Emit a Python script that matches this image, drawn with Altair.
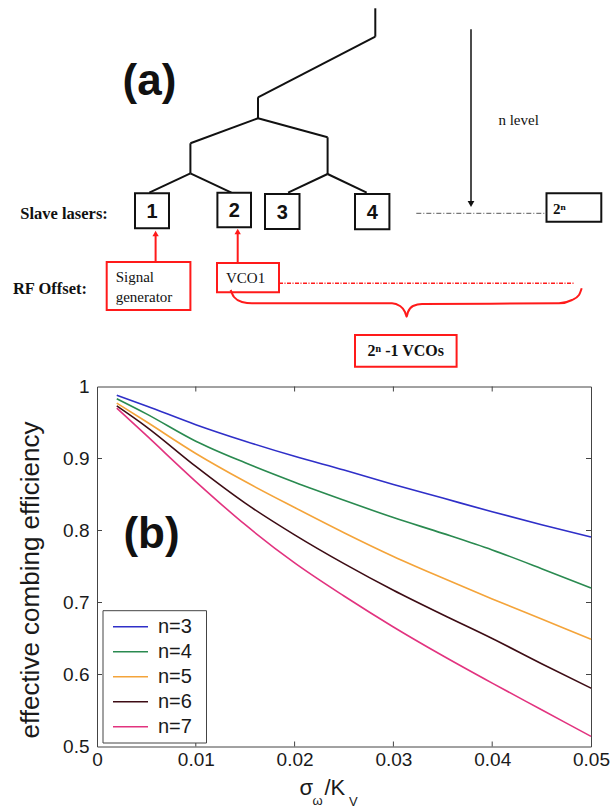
import altair as alt
import pandas as pd

# ---------------- (b) data: efficiency vs sigma_w / K_V ----------------
x_vals = [0.002, 0.005, 0.01, 0.015, 0.02, 0.025, 0.03, 0.035, 0.04, 0.045, 0.05]
eff_n3 = [0.988, 0.973, 0.947, 0.924, 0.903, 0.884, 0.864, 0.845, 0.826, 0.808, 0.791]
eff_n4 = [0.983, 0.962, 0.924, 0.894, 0.867, 0.842, 0.818, 0.796, 0.773, 0.747, 0.720]
eff_n5 = [0.977, 0.951, 0.907, 0.868, 0.832, 0.797, 0.764, 0.734, 0.705, 0.677, 0.649]
eff_n6 = [0.973, 0.944, 0.889, 0.838, 0.794, 0.754, 0.717, 0.683, 0.650, 0.615, 0.581]
eff_n7 = [0.970, 0.932, 0.868, 0.808, 0.755, 0.709, 0.666, 0.626, 0.588, 0.551, 0.514]
series_names = ["n=3", "n=4", "n=5", "n=6", "n=7"]
series_colors = ["#2f2fc8", "#2a8a50", "#f4a43a", "#3d0c14", "#e2337f"]

x_ticks = [0, 0.01, 0.02, 0.03, 0.04, 0.05]
y_ticks = [0.5, 0.6, 0.7, 0.8, 0.9, 1.0]
inner_x_ticks = [0.01, 0.02, 0.03, 0.04]
inner_y_ticks = [0.6, 0.7, 0.8, 0.9]

# ---------------- (a) diagram (page coordinates, px from top-left) ----------------
tree_x1 = [375.3, 375.3, 258.0, 258.0, 258.0, 190.4, 327.6, 190.4, 190.4, 327.6, 327.6]
tree_y1 = [8.3, 36.7, 97.3, 118.3, 118.3, 143.3, 137.3, 173.3, 173.3, 174.0, 174.0]
tree_x2 = [375.3, 258.0, 258.0, 190.4, 327.6, 190.4, 327.6, 149.3, 231.4, 288.1, 366.7]
tree_y2 = [36.7, 97.3, 118.3, 143.3, 137.3, 173.3, 174.0, 192.7, 192.7, 192.7, 192.7]

laser_labels = ["1", "2", "3", "4"]
laser_x1 = [135.0, 217.4, 265.0, 355.0]
laser_x2 = [169.0, 251.0, 299.5, 389.4]
laser_y1 = [193.3, 192.7, 194.0, 194.0]
laser_y2 = [228.3, 227.3, 229.0, 229.3]

brace_x = [230.6, 234, 242, 252, 392, 400, 405, 406.6, 408, 413, 422, 559, 572, 579, 581.7]
brace_y = [290, 297, 302, 303.3, 303.3, 306, 312, 316.7, 312, 306, 304, 303.3, 300, 295, 288.3]

W, H = 494, 360
PAD_L, PAD_T = 97, 386.5
PAGE_W, PAGE_H = 613, 809

px = alt.Scale(domain=[0, PAGE_W], range=[-PAD_L, PAGE_W - PAD_L], zero=False, nice=False)
py = alt.Scale(domain=[0, PAGE_H], range=[-PAD_T, PAGE_H - PAD_T], zero=False, nice=False)


def PX(f):
    return alt.X(f"{f}:Q", scale=px, axis=None)


def PY(f):
    return alt.Y(f"{f}:Q", scale=py, axis=None)


color_scale = alt.Scale(domain=series_names, range=series_colors)

# ---------------- plot (b) ----------------
rows = []
for name, ys in zip(series_names, [eff_n3, eff_n4, eff_n5, eff_n6, eff_n7]):
    for xv, yv in zip(x_vals, ys):
        rows.append({"x": xv, "eff": yv, "series": name})
df = pd.DataFrame(rows)

xs = alt.Scale(domain=[0, 0.05], nice=False, zero=False)
ys_ = alt.Scale(domain=[0.5, 1.0], nice=False, zero=False)

lines = alt.Chart(df).mark_line(strokeWidth=1.6, interpolate="monotone").encode(
    x=alt.X("x:Q", scale=xs, axis=alt.Axis(
        values=x_ticks, title=None, ticks=False, domain=False, grid=False,
        labelExpr="datum.value == 0 ? '0' : format(datum.value, '.2f')",
        labelFont="Liberation Sans", labelFontSize=19, labelColor="#1a1a1a",
        labelPadding=4, labelFlush=False, labelOverlap=False)),
    y=alt.Y("eff:Q", scale=ys_, axis=alt.Axis(
        values=y_ticks, ticks=False, domain=False, grid=False,
        labelExpr="datum.value == 1 ? '1' : format(datum.value, '.1f')",
        labelFont="Liberation Sans", labelFontSize=19, labelColor="#1a1a1a",
        labelPadding=8, labelFlush=False, labelOverlap=False,
        title="effective combing efficiency", titleFont="Liberation Sans",
        titleFontSize=26, titleFontWeight="normal", titleColor="#1a1a1a",
        titleAngle=270, titleX=-67, titleY=H / 2 + 13, titleAlign="center",
        titleBaseline="middle")),
    color=alt.Color("series:N", scale=color_scale, legend=None),
    detail="series:N",
)

tx = pd.DataFrame({"v": inner_x_ticks})
ty = pd.DataFrame({"v": inner_y_ticks})
tick_b = alt.Chart(tx).mark_rule(color="#444", strokeWidth=1).encode(
    x=alt.X("v:Q", scale=xs), y=alt.value(H), y2=alt.value(H - 5))
tick_t = alt.Chart(tx).mark_rule(color="#444", strokeWidth=1).encode(
    x=alt.X("v:Q", scale=xs), y=alt.value(0), y2=alt.value(5))
tick_l = alt.Chart(ty).mark_rule(color="#444", strokeWidth=1).encode(
    y=alt.Y("v:Q", scale=ys_), x=alt.value(0), x2=alt.value(5))
tick_r = alt.Chart(ty).mark_rule(color="#444", strokeWidth=1).encode(
    y=alt.Y("v:Q", scale=ys_), x=alt.value(W), x2=alt.value(W - 5))

plot_group = alt.layer(lines, tick_b, tick_t, tick_l, tick_r)

# ---------------- page layers (diagram, legend, labels) ----------------
tree_df = pd.DataFrame({"x": tree_x1, "y": tree_y1, "x2": tree_x2, "y2": tree_y2})
tree = alt.Chart(tree_df).mark_rule(color="#111", strokeWidth=2).encode(
    x=PX("x"), y=PY("y"), x2="x2:Q", y2="y2:Q")

laser_df = pd.DataFrame({"t": laser_labels, "x": laser_x1, "x2": laser_x2,
                         "y": laser_y1, "y2": laser_y2})
laser_df["cx"] = (laser_df["x"] + laser_df["x2"]) / 2
laser_df["cy"] = (laser_df["y"] + laser_df["y2"]) / 2 + 1
laser_boxes = alt.Chart(laser_df).mark_rect(fill="white", stroke="#111", strokeWidth=2).encode(
    x=PX("x"), x2="x2:Q", y=PY("y"), y2="y2:Q")
laser_text = alt.Chart(laser_df).mark_text(font="Liberation Sans", fontWeight="bold",
                                           fontSize=20, color="#111", baseline="middle").encode(
    x=PX("cx"), y=PY("cy"), text="t:N")

box2n = alt.Chart(pd.DataFrame({"x": [546.5], "x2": [601.3], "y": [193.3], "y2": [221.7]})).mark_rect(
    fill="white", stroke="#111", strokeWidth=2).encode(x=PX("x"), x2="x2:Q", y=PY("y"), y2="y2:Q")
box2n_text = alt.Chart(pd.DataFrame({"x": [553], "y": [208.5], "t": ["2ⁿ"]})).mark_text(
    font="Liberation Serif", fontWeight="bold", fontSize=15, align="left", baseline="middle",
    color="#111").encode(x=PX("x"), y=PY("y"), text="t:N")

dash_line = alt.Chart(pd.DataFrame({"x": [416.3], "x2": [546.5], "y": [213.3]})).mark_rule(
    color="#555", strokeWidth=1, strokeDash=[5, 2, 1, 2]).encode(x=PX("x"), x2="x2:Q", y=PY("y"))

n_arrow = alt.Chart(pd.DataFrame({"x": [471.0], "y": [29.3], "y2": [203.0]})).mark_rule(
    color="#111", strokeWidth=1.5).encode(x=PX("x"), y=PY("y"), y2="y2:Q")
n_head = alt.Chart(pd.DataFrame({"x": [471.0], "y": [204.0]})).mark_point(
    shape="triangle-down", filled=True, size=45, color="#111", opacity=1).encode(x=PX("x"), y=PY("y"))

black_serif = alt.Chart(pd.DataFrame({"x": [498.4], "y": [120.0], "t": ["n level"]})).mark_text(
    font="Liberation Serif", fontSize=15, align="left", baseline="middle", color="#111").encode(
    x=PX("x"), y=PY("y"), text="t:N")

row_labels = alt.Chart(pd.DataFrame({"x": [20.3, 12.9], "y": [214.0, 289.0],
                                     "t": ["Slave lasers:", "RF Offset:"]})).mark_text(
    font="Liberation Serif", fontWeight="bold", fontSize=16.5, align="left", baseline="middle",
    color="#111").encode(x=PX("x"), y=PY("y"), text="t:N")

panel_labels = alt.Chart(pd.DataFrame({"x": [149.5, 151.5], "y": [82.0, 535.0],
                                       "t": ["(a)", "(b)"]})).mark_text(
    font="Liberation Sans", fontWeight="bold", fontSize=44, baseline="middle", color="#111").encode(
    x=PX("x"), y=PY("y"), text="t:N")

RED = "#ff1a1a"
red_boxes = alt.Chart(pd.DataFrame({"x": [106.7, 217.0, 355.0], "x2": [190.4, 279.0, 456.6],
                                    "y": [262.0, 263.0, 335.0], "y2": [310.0, 292.3, 366.7]})).mark_rect(
    fill="white", stroke=RED, strokeWidth=2).encode(x=PX("x"), x2="x2:Q", y=PY("y"), y2="y2:Q")
red_arrows = alt.Chart(pd.DataFrame({"x": [155.6, 237.7], "y": [262.0, 263.0], "y2": [236.0, 234.0]})).mark_rule(
    color=RED, strokeWidth=2).encode(x=PX("x"), y=PY("y"), y2="y2:Q")
red_heads = alt.Chart(pd.DataFrame({"x": [155.6, 237.7], "y": [233.5, 231.5]})).mark_point(
    shape="triangle-up", filled=True, size=40, color=RED, opacity=1).encode(x=PX("x"), y=PY("y"))
red_dots = alt.Chart(pd.DataFrame({"x": [279.0], "x2": [574.7], "y": [283.3]})).mark_rule(
    color=RED, strokeWidth=1.5, strokeDash=[4, 1.5, 1, 1.5]).encode(x=PX("x"), x2="x2:Q", y=PY("y"))
brace_df = pd.DataFrame({"x": brace_x, "y": brace_y, "i": list(range(len(brace_x)))})
brace = alt.Chart(brace_df).mark_line(color=RED, strokeWidth=2, interpolate="monotone").encode(
    x=PX("x"), y=PY("y"), order="i:Q")
red_text = alt.Chart(pd.DataFrame({"x": [115.7, 115.7, 226.0], "y": [277.0, 297.0, 277.5],
                                   "t": ["Signal", "generator", "VCO1"]})).mark_text(
    font="Liberation Serif", fontSize=15, align="left", baseline="middle", color="#111").encode(
    x=PX("x"), y=PY("y"), text="t:N")
vcos_text = alt.Chart(pd.DataFrame({"x": [405.8], "y": [351.0], "t": ["2ⁿ -1 VCOs"]})).mark_text(
    font="Liberation Serif", fontWeight="bold", fontSize=16, baseline="middle", color="#111").encode(
    x=PX("x"), y=PY("y"), text="t:N")

# legend of (b)
leg_box = alt.Chart(pd.DataFrame({"x": [103.0], "x2": [206.5], "y": [610.7], "y2": [743.0]})).mark_rect(
    fill="white", stroke="#444", strokeWidth=1).encode(x=PX("x"), x2="x2:Q", y=PY("y"), y2="y2:Q")
leg_df = pd.DataFrame({"series": series_names})
leg_df["y"] = 626.7 + 25.0 * leg_df.index
leg_df["x"] = 113.0
leg_df["x2"] = 148.0
leg_df["tx"] = 158.0
leg_rules = alt.Chart(leg_df).mark_rule(strokeWidth=1.6).encode(
    x=PX("x"), x2="x2:Q", y=PY("y"),
    color=alt.Color("series:N", scale=color_scale, legend=None))
leg_text = alt.Chart(leg_df).mark_text(font="Liberation Sans", fontSize=20, align="left",
                                       baseline="middle", color="#1a1a1a").encode(
    x=PX("tx"), y=PY("y"), text="series:N")

# x axis title: sigma_omega / K_V
xt_big = alt.Chart(pd.DataFrame({"x": [299.5, 324.5], "y": [795.0, 795.0], "t": ["σ", "/K"]})).mark_text(
    font="Liberation Sans", fontSize=22, align="left", baseline="alphabetic", color="#1a1a1a").encode(
    x=PX("x"), y=PY("y"), text="t:N")
xt_small = alt.Chart(pd.DataFrame({"x": [312.5, 349.0], "y": [805.0, 805.5], "t": ["ω", "V"]})).mark_text(
    font="Liberation Sans", fontSize=13, align="left", baseline="alphabetic", color="#1a1a1a").encode(
    x=PX("x"), y=PY("y"), text="t:N")

page_group = alt.layer(
    tree, laser_boxes, laser_text, box2n, box2n_text, dash_line, n_arrow, n_head,
    black_serif, row_labels, panel_labels, red_boxes, red_arrows, red_heads, red_dots,
    brace, red_text, vcos_text, leg_box, leg_rules, leg_text, xt_big, xt_small)

chart = alt.layer(plot_group, page_group).resolve_scale(
    x="independent", y="independent"
).properties(
    width=W, height=H,
    autosize=alt.AutoSizeParams(type="none"),
    padding={"left": PAD_L, "top": PAD_T, "right": PAGE_W - PAD_L - W, "bottom": PAGE_H - PAD_T - H},
    background="white",
).configure_view(stroke="#444", strokeWidth=1)

chart.save("out.html", embed_options={"renderer": "svg", "actions": False})
